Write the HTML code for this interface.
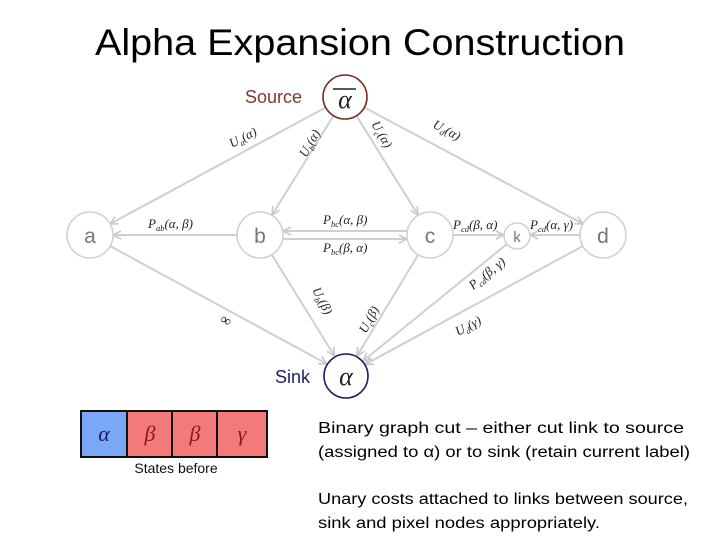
<!DOCTYPE html>
<html><head><meta charset="utf-8"><style>
html,body{margin:0;padding:0;background:#fff;}
svg{display:block;}
.m{font-family:"Liberation Serif",serif;font-style:italic;font-size:13px;fill:#222;}
.s{font-size:8.5px;}
.n{font-family:"Liberation Sans",sans-serif;font-size:21px;fill:#777;text-anchor:middle;}
.t{font-family:"Liberation Sans",sans-serif;font-size:15.5px;fill:#000;}
</style></head><body>
<svg width="720" height="540" viewBox="0 0 720 540" xmlns="http://www.w3.org/2000/svg">
<defs>
<marker id="ar" markerWidth="10" markerHeight="10" refX="9" refY="5" orient="auto" markerUnits="userSpaceOnUse">
<path d="M1,1 L9,5 L1,9" fill="none" stroke="#c8c8c8" stroke-width="1.6"/>
</marker>
</defs>
<text x="360" y="55" text-anchor="middle" font-family="Liberation Sans,sans-serif" font-size="37" textLength="530" lengthAdjust="spacingAndGlyphs">Alpha Expansion Construction</text>

<g stroke="#cfcfcf" stroke-width="2" fill="none" marker-end="url(#ar)">
<line x1="326.5" y1="107" x2="110" y2="224"/>
<line x1="334" y1="115" x2="272" y2="215"/>
<line x1="356" y1="115" x2="418" y2="215"/>
<line x1="363.5" y1="107" x2="583" y2="224"/>
<line x1="237" y1="235" x2="113" y2="235"/>
<line x1="407" y1="231" x2="283" y2="231"/>
<line x1="283" y1="239" x2="407" y2="239"/>
<line x1="453" y1="235" x2="504" y2="235"/>
<line x1="580" y1="235" x2="530" y2="235"/>
<line x1="110" y1="246" x2="327" y2="364"/>
<line x1="272" y1="255" x2="334.5" y2="356"/>
<line x1="418" y1="255" x2="357" y2="356"/>
<line x1="507" y1="244" x2="363" y2="361"/>
<line x1="583" y1="246" x2="365" y2="364.5"/>
</g>

<g fill="#fff" stroke="#d0d0d0" stroke-width="1.5">
<circle cx="90" cy="235" r="23"/>
<circle cx="260" cy="235" r="23"/>
<circle cx="430" cy="235" r="23"/>
<circle cx="517" cy="236" r="13"/>
<circle cx="603" cy="235" r="23"/>
</g>
<text class="n" x="90" y="243">a</text>
<text class="n" x="260" y="243">b</text>
<text class="n" x="430" y="243">c</text>
<text class="n" x="517" y="242" style="font-size:15px">k</text>
<text class="n" x="603" y="243">d</text>

<circle cx="345" cy="97" r="22" fill="#fff" stroke="#7a2e26" stroke-width="1.6"/>
<line x1="333" y1="89" x2="356" y2="89" stroke="#222" stroke-width="1.5"/>
<text x="345" y="108" text-anchor="middle" font-family="Liberation Serif,serif" font-style="italic" font-size="26" fill="#222">α</text>
<text x="245" y="103" font-family="Liberation Sans,sans-serif" font-size="18" fill="#7a3a30">Source</text>

<circle cx="346" cy="376" r="22" fill="#fff" stroke="#1c1c6a" stroke-width="1.6"/>
<text x="346" y="385" text-anchor="middle" font-family="Liberation Serif,serif" font-style="italic" font-size="26" fill="#222">α</text>
<text x="275" y="383" font-family="Liberation Sans,sans-serif" font-size="18" fill="#1c1c6a">Sink</text>

<text class="m" transform="translate(232,148) rotate(-28)">U<tspan class="s" dy="3">a</tspan><tspan dy="-3">(α)</tspan></text>
<text class="m" transform="translate(306,158) rotate(-60)">U<tspan class="s" dy="3">b</tspan><tspan dy="-3">(α)</tspan></text>
<text class="m" transform="translate(371,124) rotate(60)">U<tspan class="s" dy="3">c</tspan><tspan dy="-3">(α)</tspan></text>
<text class="m" transform="translate(432,127) rotate(28)">U<tspan class="s" dy="3">d</tspan><tspan dy="-3">(α)</tspan></text>

<text class="m" x="148" y="228">P<tspan class="s" dy="3">ab</tspan><tspan dy="-3">(α, β)</tspan></text>
<text class="m" x="323" y="224">P<tspan class="s" dy="3">bc</tspan><tspan dy="-3">(α, β)</tspan></text>
<text class="m" x="323" y="252">P<tspan class="s" dy="3">bc</tspan><tspan dy="-3">(β, α)</tspan></text>
<text class="m" x="453" y="229">P<tspan class="s" dy="3">cd</tspan><tspan dy="-3">(β, α)</tspan></text>
<text class="m" x="530" y="229">P<tspan class="s" dy="3">cd</tspan><tspan dy="-3">(α, γ)</tspan></text>
<text class="m" transform="translate(473,290) rotate(-39)">P<tspan class="s" dy="3">cd</tspan><tspan dy="-3">(β, γ)</tspan></text>

<text class="m" transform="translate(219,322) rotate(28)" style="font-style:normal;font-size:15px">∞</text>
<text class="m" transform="translate(312,290) rotate(62)">U<tspan class="s" dy="3">b</tspan><tspan dy="-3">(β)</tspan></text>
<text class="m" transform="translate(366,334) rotate(-62)">U<tspan class="s" dy="3">c</tspan><tspan dy="-3">(β)</tspan></text>
<text class="m" transform="translate(458,336) rotate(-28)">U<tspan class="s" dy="3">d</tspan><tspan dy="-3">(γ)</tspan></text>

<rect x="80" y="410" width="188" height="48" fill="#111"/>
<rect x="82" y="412" width="44" height="44" fill="#7aa8f7"/>
<rect x="128" y="412" width="43" height="44" fill="#f47a7a"/>
<rect x="173" y="412" width="43" height="44" fill="#f47a7a"/>
<rect x="218" y="412" width="48" height="44" fill="#f47a7a"/>
<g font-family="Liberation Serif,serif" font-style="italic" font-size="22" text-anchor="middle">
<text x="104" y="441" fill="#1b1b6a">α</text>
<text x="150" y="441" fill="#8a1a1a">β</text>
<text x="195" y="441" fill="#8a1a1a">β</text>
<text x="242" y="441" fill="#8a1a1a">γ</text>
</g>
<text x="176" y="473" text-anchor="middle" font-family="Liberation Sans,sans-serif" font-size="14" fill="#111">States before</text>

<text class="t" x="318" y="433" textLength="366" lengthAdjust="spacingAndGlyphs">Binary graph cut – either cut link to source</text>
<text class="t" x="318" y="457" textLength="372" lengthAdjust="spacingAndGlyphs">(assigned to α) or to sink (retain current label)</text>
<text class="t" x="318" y="504" textLength="370" lengthAdjust="spacingAndGlyphs">Unary costs attached to links between source,</text>
<text class="t" x="318" y="528" textLength="282" lengthAdjust="spacingAndGlyphs">sink and pixel nodes appropriately.</text>
</svg>
</body></html>
